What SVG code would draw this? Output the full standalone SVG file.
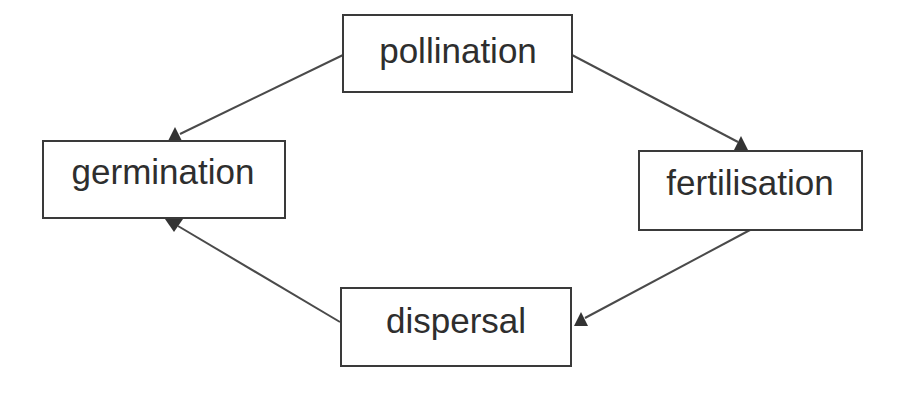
<svg xmlns="http://www.w3.org/2000/svg" width="910" height="399" viewBox="0 0 910 399">
<style>
.box{fill:#fff;stroke:#3a3a3a;stroke-width:2}
.lbl{font-family:"Liberation Sans",Arial,sans-serif;font-size:35px;fill:#2e2e2e;text-anchor:middle}
.ln{stroke:#4a4a4a;stroke-width:2;fill:none}
.ah{fill:#333;stroke:none}
</style>
<rect width="910" height="399" fill="#fff"/>
<g id="connectors">
<line class="ln" x1="343" y1="55" x2="180" y2="134"/>
<polygon class="ah" points="175,127 168,141 182,141"/>
<line class="ln" x1="572" y1="55" x2="738" y2="142"/>
<polygon class="ah" points="741,136 734,150 748,150"/>
<line class="ln" x1="750" y1="230" x2="585" y2="318"/>
<polygon class="ah" points="581,312 574,326 588,326"/>
<line class="ln" x1="340" y1="322" x2="178" y2="226"/>
<polygon class="ah" points="165,219 183,219 174,232"/>
</g>
<g id="pollination">
<rect class="box" x="343" y="15" width="229" height="77"/>
<text class="lbl" x="458" y="63">pollination</text>
</g>
<g id="germination">
<rect class="box" x="43" y="141" width="242" height="77"/>
<text class="lbl" x="163" y="184">germination</text>
</g>
<g id="fertilisation">
<rect class="box" x="639" y="151" width="223" height="79"/>
<text class="lbl" x="750" y="195">fertilisation</text>
</g>
<g id="dispersal">
<rect class="box" x="341" y="288" width="230" height="78"/>
<text class="lbl" x="456" y="333">dispersal</text>
</g>
</svg>
